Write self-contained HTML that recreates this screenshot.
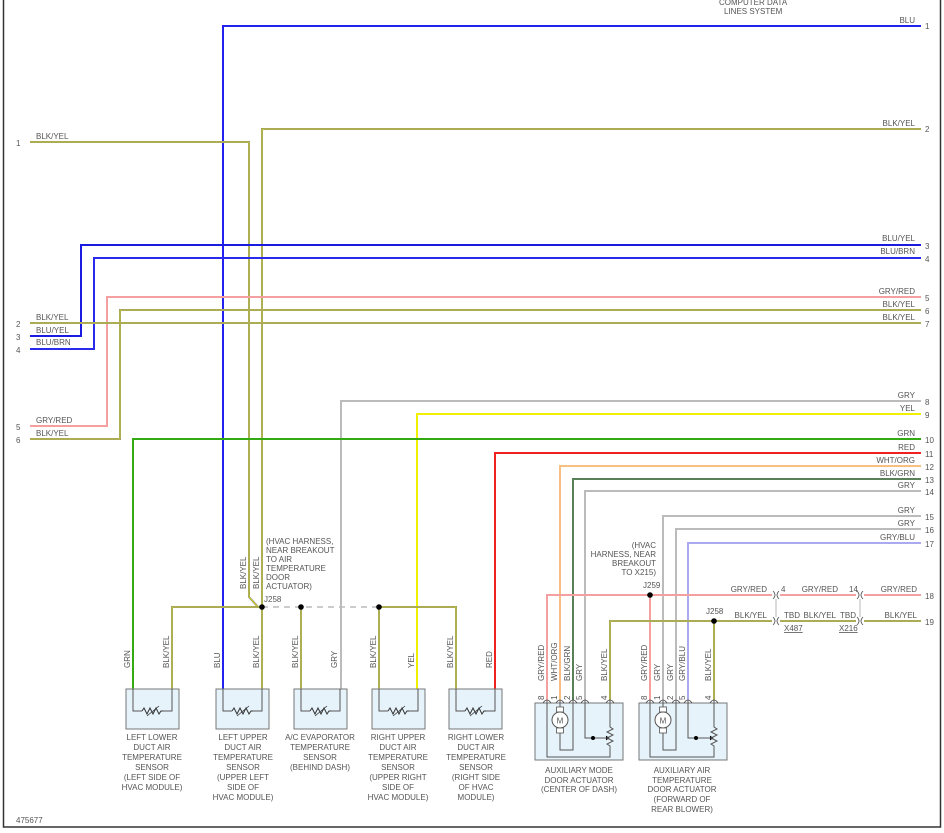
<!DOCTYPE html>
<html><head><meta charset="utf-8"><style>
html,body{margin:0;padding:0;background:#fff;}
svg{display:block;}
text{font-family:"Liberation Sans",sans-serif;font-size:8px;fill:#555;}
</style></head><body>
<svg id="s" width="944" height="833" viewBox="0 0 944 833" xmlns="http://www.w3.org/2000/svg">
<rect x="3.5" y="-2" width="937" height="829" fill="none" stroke="#333" stroke-width="1.5"/>
<g id="w" fill="none" stroke-linejoin="miter"></g>
<g id="sh"></g>
<line x1="262" y1="607" x2="379" y2="607" stroke="#bbb" stroke-width="1.5" stroke-dasharray="6,5"/>
<g fill="#000">
<circle cx="262" cy="607" r="2.8"/><circle cx="301" cy="607" r="2.8"/><circle cx="379" cy="607" r="2.8"/>
<circle cx="650" cy="595" r="2.8"/><circle cx="714" cy="621" r="2.8"/>
</g>
<g text-anchor="end">
<text x="915" y="23">BLU</text>
<text x="915" y="126">BLK/YEL</text>
<text x="915" y="241">BLU/YEL</text>
<text x="915" y="254">BLU/BRN</text>
<text x="915" y="294">GRY/RED</text>
<text x="915" y="307">BLK/YEL</text>
<text x="915" y="320">BLK/YEL</text>
<text x="915" y="398">GRY</text>
<text x="915" y="411">YEL</text>
<text x="915" y="436">GRN</text>
<text x="915" y="450">RED</text>
<text x="915" y="463">WHT/ORG</text>
<text x="915" y="476">BLK/GRN</text>
<text x="915" y="488">GRY</text>
<text x="915" y="513">GRY</text>
<text x="915" y="526">GRY</text>
<text x="915" y="540">GRY/BLU</text>
<text x="917" y="592">GRY/RED</text>
<text x="917" y="618">BLK/YEL</text>
<text x="767" y="592">GRY/RED</text>
<text x="838" y="592">GRY/RED</text>
<text x="767" y="618">BLK/YEL</text>
<text x="836" y="618">BLK/YEL</text>
</g>
<g>
<text x="925" y="29">1</text><text x="925" y="132">2</text><text x="925" y="249">3</text><text x="925" y="262">4</text>
<text x="925" y="301">5</text><text x="925" y="314">6</text><text x="925" y="327">7</text><text x="925" y="405">8</text>
<text x="925" y="418">9</text><text x="925" y="443">10</text><text x="925" y="457">11</text><text x="925" y="470">12</text>
<text x="925" y="483">13</text><text x="925" y="495">14</text><text x="925" y="520">15</text><text x="925" y="533">16</text>
<text x="925" y="547">17</text><text x="925" y="599">18</text><text x="925" y="625">19</text>
<text x="16" y="146">1</text><text x="16" y="327">2</text><text x="16" y="340">3</text><text x="16" y="353">4</text>
<text x="16" y="430">5</text><text x="16" y="443">6</text>
<text x="36" y="139">BLK/YEL</text><text x="36" y="320">BLK/YEL</text><text x="36" y="333">BLU/YEL</text>
<text x="36" y="345">BLU/BRN</text><text x="36" y="423">GRY/RED</text><text x="36" y="436">BLK/YEL</text>
<text x="719" y="5">COMPUTER DATA</text><text x="724" y="14">LINES SYSTEM</text>
<text x="266" y="544">(HVAC HARNESS,</text><text x="266" y="553">NEAR BREAKOUT</text>
<text x="266" y="562">TO AIR</text><text x="266" y="571">TEMPERATURE</text><text x="266" y="580">DOOR</text>
<text x="266" y="589">ACTUATOR)</text><text x="264" y="602">J258</text>
<text x="643" y="588">J259</text>
<text x="706" y="614">J258</text>
<text x="781" y="592">4</text><text x="849" y="592">14</text>
<text x="784" y="618">TBD</text><text x="840" y="618">TBD</text>
<text x="784" y="631" text-decoration="underline">X487</text>
<text x="839" y="631" text-decoration="underline">X216</text>
<text x="16" y="823">475677</text>
</g>
<g text-anchor="end">
<text x="656" y="548">(HVAC</text><text x="656" y="557">HARNESS, NEAR</text><text x="656" y="566">BREAKOUT</text><text x="656" y="575">TO X215)</text>
</g>
<g text-anchor="middle">
<text x="152" y="740">LEFT LOWER</text><text x="152" y="750">DUCT AIR</text><text x="152" y="760">TEMPERATURE</text><text x="152" y="770">SENSOR</text><text x="152" y="780">(LEFT SIDE OF</text><text x="152" y="790">HVAC MODULE)</text>
<text x="243" y="740">LEFT UPPER</text><text x="243" y="750">DUCT AIR</text><text x="243" y="760">TEMPERATURE</text><text x="243" y="770">SENSOR</text><text x="243" y="780">(UPPER LEFT</text><text x="243" y="790">SIDE OF</text><text x="243" y="800">HVAC MODULE)</text>
<text x="320" y="740">A/C EVAPORATOR</text><text x="320" y="750">TEMPERATURE</text><text x="320" y="760">SENSOR</text><text x="320" y="770">(BEHIND DASH)</text>
<text x="398" y="740">RIGHT UPPER</text><text x="398" y="750">DUCT AIR</text><text x="398" y="760">TEMPERATURE</text><text x="398" y="770">SENSOR</text><text x="398" y="780">(UPPER RIGHT</text><text x="398" y="790">SIDE OF</text><text x="398" y="800">HVAC MODULE)</text>
<text x="476" y="740">RIGHT LOWER</text><text x="476" y="750">DUCT AIR</text><text x="476" y="760">TEMPERATURE</text><text x="476" y="770">SENSOR</text><text x="476" y="780">(RIGHT SIDE</text><text x="476" y="790">OF HVAC</text><text x="476" y="800">MODULE)</text>
<text x="579" y="773">AUXILIARY MODE</text><text x="579" y="783">DOOR ACTUATOR</text><text x="579" y="792">(CENTER OF DASH)</text>
<text x="682" y="773">AUXILIARY AIR</text><text x="682" y="783">TEMPERATURE</text><text x="682" y="792">DOOR ACTUATOR</text><text x="682" y="802">(FORWARD OF</text><text x="682" y="812">REAR BLOWER)</text>
</g>
</svg>
<script>
var NS="http://www.w3.org/2000/svg";
function el(p,t,a){var e=document.createElementNS(NS,t);for(var k in a)e.setAttribute(k,a[k]);p.appendChild(e);return e;}
var W=document.getElementById('w'),SH=document.getElementById('sh');
var C={BLU:['#2222ee',null],BY:['#888',"#e8e800"],BLUY:['#1a1ae0',null],BLUB:['#2a2aee',null],GR:['#f4a0a0',null],GRY:['#bbb',null],YEL:['#f0f000',null],GRN:['#33aa11',null],RED:['#ee2222',null],WO:['#f8c080',null],BG:['#666','#44aa44'],GB:['#aaaaee',null]};
function wire(c,pts){var p=pts.map(function(q){return q.join(',')}).join(' ');
 el(W,'polyline',{points:p,stroke:C[c][0],'stroke-width':2});
 if(C[c][1])el(W,'polyline',{points:p,stroke:C[c][1],'stroke-width':0.8});}
wire('BLU',[[921,26],[223,26],[223,706]]);
wire('BY',[[921,129],[262,129],[262,607]]);
wire('BY',[[30,142],[249,142],[249,597],[258,607]]);
wire('BLUY',[[921,245],[81,245],[81,336],[30,336]]);
wire('BLUB',[[921,258],[94,258],[94,349],[30,349]]);
wire('GR',[[921,297],[107,297],[107,426],[30,426]]);
wire('BY',[[921,310],[120,310],[120,439],[30,439]]);
wire('BY',[[921,323],[30,323]]);
wire('GRY',[[921,401],[341,401],[341,706]]);
wire('YEL',[[921,414],[417,414],[417,706]]);
wire('GRN',[[921,439],[133,439],[133,706]]);
wire('RED',[[921,453],[495,453],[495,706]]);
wire('WO',[[921,466],[560,466],[560,700]]);
wire('BG',[[921,479],[573,479],[573,700]]);
wire('GRY',[[921,491],[585,491],[585,700]]);
wire('GRY',[[921,516],[663,516],[663,700]]);
wire('GRY',[[921,529],[676,529],[676,700]]);
wire('GB',[[921,543],[688,543],[688,700]]);
wire('GR',[[921,595],[547,595],[547,700]]);
wire('GR',[[650,595],[650,700]]);
wire('BY',[[921,621],[610,621],[610,700]]);
wire('BY',[[714,621],[714,700]]);
wire('BY',[[262,607],[172,607],[172,706]]);
wire('BY',[[262,607],[262,706]]);
wire('BY',[[301,607],[301,706]]);
wire('BY',[[379,607],[456,607],[456,706]]);
wire('BY',[[379,607],[379,706]]);
[[776,595],[776,621],[860,595],[860,621]].forEach(function(q){
 el(W,'rect',{x:q[0]-4,y:q[1]-4,width:8,height:8,fill:'#fff',stroke:'none'});
 el(W,'path',{d:'M'+(q[0]-3)+' '+(q[1]-4)+' q4 4 0 8 M'+(q[0]+3)+' '+(q[1]-4)+' q-4 4 0 8',stroke:'#555','stroke-width':0.8});
});
el(W,'line',{x1:776,y1:599,x2:776,y2:617,stroke:'#999','stroke-width':0.7});
el(W,'line',{x1:860,y1:599,x2:860,y2:617,stroke:'#999','stroke-width':0.7});
[126,216,294,372,449].forEach(function(x){
 el(SH,'rect',{x:x,y:689,width:53,height:40,fill:'#e6f3fb',stroke:'#777','stroke-width':1});
 var a=x+7,b=x+46;
 el(SH,'polyline',{points:a+',689 '+a+',711 '+(x+16)+',711',fill:'none',stroke:'#555','stroke-width':1});
 el(SH,'polyline',{points:b+',689 '+b+',711 '+(x+37)+',711',fill:'none',stroke:'#555','stroke-width':1});
 el(SH,'polyline',{points:(x+16)+',711 '+(x+18)+',708 '+(x+21)+',714 '+(x+24)+',708 '+(x+27)+',714 '+(x+30)+',708 '+(x+33)+',714 '+(x+35)+',711 '+(x+37)+',711',fill:'none',stroke:'#333','stroke-width':1});
 el(SH,'line',{x1:x+21,y1:716,x2:x+33,y2:706,stroke:'#333','stroke-width':0.8});
});
[[535,[547,560,573,585,610]],[639,[650,663,676,688,714]]].forEach(function(A){
 var x=A[0],p=A[1],s={fill:'none',stroke:'#555','stroke-width':1};
 el(SH,'rect',{x:x,y:703,width:88,height:57,fill:'#e6f3fb',stroke:'#777','stroke-width':1});
 p.forEach(function(px){el(SH,'path',{d:'M'+(px-4)+' 703 q4 -6 8 0',fill:'none',stroke:'#444','stroke-width':0.8});});
 var m=p[1];
 el(SH,'polyline',Object.assign({points:p[0]+',700 '+p[0]+',757 '+p[4]+',757 '+p[4]+',748'},s));
 el(SH,'line',Object.assign({x1:m,y1:700,x2:m,y2:709},s));
 el(SH,'rect',{x:m-3.5,y:707,width:7,height:5,fill:'#fff',stroke:'#555','stroke-width':0.8});
 el(SH,'circle',{cx:m,cy:720,r:8,fill:'#fff',stroke:'#555','stroke-width':1});
 el(SH,'text',{x:m,y:723.5,'text-anchor':'middle','font-size':'9'}).textContent='M';
 el(SH,'rect',{x:m-3.5,y:728,width:7,height:5,fill:'#fff',stroke:'#555','stroke-width':0.8});
 el(SH,'polyline',Object.assign({points:m+',733 '+m+',750 '+p[2]+',750 '+p[2]+',700'},s));
 el(SH,'polyline',Object.assign({points:p[3]+',700 '+p[3]+',738 '+(p[4]-4)+',738'},s));
 el(SH,'circle',{cx:p[3]+8,cy:738,r:2,fill:'#000'});
 el(SH,'path',{d:'M'+(p[4]-4)+' 736 l3 2 l-3 2',fill:'#000',stroke:'#000','stroke-width':0.6});
 el(SH,'polyline',Object.assign({points:p[4]+',700 '+p[4]+',727 '+(p[4]+3)+',729 '+(p[4]-3)+',732 '+(p[4]+3)+',735 '+(p[4]-3)+',738 '+(p[4]+3)+',741 '+(p[4]-3)+',744 '+p[4]+',746 '+p[4]+',748'},s));
});
</script>
<svg style="position:absolute;left:0;top:0" width="944" height="833">
<g font-family="Liberation Sans" font-size="8" fill="#555">
<text transform="translate(130,668) rotate(-90)">GRN</text>
<text transform="translate(169,668) rotate(-90)">BLK/YEL</text>
<text transform="translate(220,668) rotate(-90)">BLU</text>
<text transform="translate(259,668) rotate(-90)">BLK/YEL</text>
<text transform="translate(298,668) rotate(-90)">BLK/YEL</text>
<text transform="translate(337,668) rotate(-90)">GRY</text>
<text transform="translate(376,668) rotate(-90)">BLK/YEL</text>
<text transform="translate(414,668) rotate(-90)">YEL</text>
<text transform="translate(453,668) rotate(-90)">BLK/YEL</text>
<text transform="translate(492,668) rotate(-90)">RED</text>
<text transform="translate(246,589) rotate(-90)">BLK/YEL</text>
<text transform="translate(259,589) rotate(-90)">BLK/YEL</text>
<text transform="translate(544,681) rotate(-90)">GRY/RED</text>
<text transform="translate(557,681) rotate(-90)">WHT/ORG</text>
<text transform="translate(570,681) rotate(-90)">BLK/GRN</text>
<text transform="translate(582,681) rotate(-90)">GRY</text>
<text transform="translate(607,681) rotate(-90)">BLK/YEL</text>
<text transform="translate(647,681) rotate(-90)">GRY/RED</text>
<text transform="translate(660,681) rotate(-90)">GRY</text>
<text transform="translate(673,681) rotate(-90)">GRY</text>
<text transform="translate(685,681) rotate(-90)">GRY/BLU</text>
<text transform="translate(711,681) rotate(-90)">BLK/YEL</text>
<text transform="translate(544,700) rotate(-90)">8</text>
<text transform="translate(557,700) rotate(-90)">1</text>
<text transform="translate(570,700) rotate(-90)">2</text>
<text transform="translate(582,700) rotate(-90)">5</text>
<text transform="translate(607,700) rotate(-90)">4</text>
<text transform="translate(647,700) rotate(-90)">8</text>
<text transform="translate(660,700) rotate(-90)">1</text>
<text transform="translate(673,700) rotate(-90)">2</text>
<text transform="translate(685,700) rotate(-90)">5</text>
<text transform="translate(711,700) rotate(-90)">4</text>
</g>
</svg>
</body></html>
